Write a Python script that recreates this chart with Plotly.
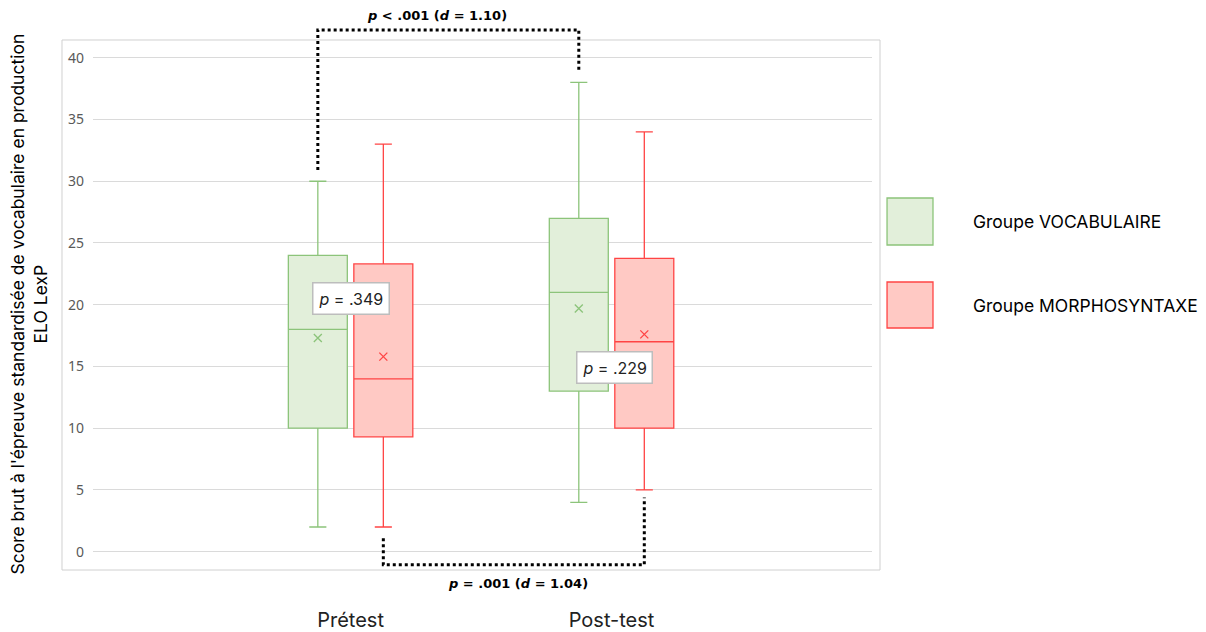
import plotly.graph_objects as go

# ---------------- data ----------------
categories = ["Prétest", "Post-test"]
groups = ["Groupe VOCABULAIRE", "Groupe MORPHOSYNTAXE"]

vocab_min = [2, 4]
vocab_q1 = [10, 13]
vocab_med = [18, 21]
vocab_q3 = [24, 27]
vocab_max = [30, 38]
vocab_mean = [17.3, 19.7]

morph_min = [2, 5]
morph_q1 = [9.3, 10]
morph_med = [14, 17]
morph_q3 = [23.3, 23.75]
morph_max = [33, 34]
morph_mean = [15.8, 17.6]

between_p = ["<i>p</i> = .349", "<i>p</i> = .229"]
within_top = "<b><i>p</i> &lt; .001 (<i>d</i> = 1.10)</b>"
within_bottom = "<b><i>p</i> = .001 (<i>d</i> = 1.04)</b>"

y_ticks = [0, 5, 10, 15, 20, 25, 30, 35, 40]

# ---------------- styles ----------------
fills = ["#e2efda", "#ffc9c4"]
lines = ["#8cc47a", "#ff4444"]
offset = 0.1255
box_w = 0.226
group_x = [i + 1 for i in range(len(categories))]

stats = [
    (vocab_min, vocab_q1, vocab_med, vocab_q3, vocab_max, vocab_mean),
    (morph_min, morph_q1, morph_med, morph_q3, morph_max, morph_mean),
]

fig = go.Figure()
for gi, (mn, q1, md, q3, mx, mean) in enumerate(stats):
    xs = [g + (-offset if gi == 0 else offset) for g in group_x]
    fig.add_trace(go.Box(
        x=xs, q1=q1, median=md, q3=q3, lowerfence=mn, upperfence=mx,
        name=groups[gi], width=box_w, whiskerwidth=0.29,
        fillcolor=fills[gi], line=dict(color=lines[gi], width=1.3),
        boxpoints=False, showlegend=False,
    ))
    fig.add_trace(go.Scatter(
        x=xs, y=mean, mode="markers", showlegend=False, hoverinfo="skip",
        marker=dict(symbol="x-thin", size=8, line=dict(color=lines[gi], width=1.3)),
    ))

# within-group brackets (dotted)
vx = [g - offset for g in group_x]
mxx = [g + offset for g in group_x]
top_y = 42.25
fig.add_trace(go.Scatter(
    x=[vx[0], vx[0], vx[1], vx[1]],
    y=[vocab_max[0] + 0.9, top_y, top_y, vocab_max[1] + 0.9],
    mode="lines", line=dict(color="black", width=3, dash="dot"),
    showlegend=False, hoverinfo="skip",
))
bot_y = -1.05
fig.add_trace(go.Scatter(
    x=[mxx[0], mxx[0], mxx[1], mxx[1]],
    y=[morph_min[0] - 0.9, bot_y, bot_y, morph_min[1] - 0.6],
    mode="lines", line=dict(color="black", width=3, dash="dot"),
    showlegend=False, hoverinfo="skip",
))

annotations = []
# between-group p labels
p_pos = [(1.0, 20.5), (2.01, 14.9)]
for txt, (ax, ay) in zip(between_p, p_pos):
    annotations.append(dict(
        x=ax, y=ay, xref="x", yref="y", text=txt, showarrow=False,
        font=dict(family="Inter", size=16, color="#222222"),
        bgcolor="white", bordercolor="#bdbdbd", borderwidth=1.5, borderpad=5,
    ))
annotations.append(dict(
    x=1.331, y=1.0183, xref="x", yref="paper", text=within_top, showarrow=False,
    xanchor="center", yanchor="middle",
    font=dict(family="DejaVu Sans", size=13, color="black"),
))
annotations.append(dict(
    x=1.642, y=-0.0239, xref="x", yref="paper", text=within_bottom, showarrow=False,
    xanchor="center", yanchor="middle",
    font=dict(family="DejaVu Sans", size=13, color="black"),
))
# y-axis title
annotations.append(dict(
    x=-0.0815, y=0.488, xref="paper", yref="paper", textangle=-90,
    text="Score brut à l'épreuve standardisée de vocabulaire en production<br>ELO LexP",
    showarrow=False, xanchor="center", yanchor="middle",
    font=dict(family="Inter", size=17.5, color="black"),
))

shapes = [dict(
    type="rect", xref="paper", yref="paper",
    x0=-0.0398, x1=1.0103, y0=0.0, y1=0.9725,
    line=dict(color="#d0d0d0", width=1), fillcolor="rgba(0,0,0,0)", layer="below",
)]

# custom legend
leg_rects = [(0.6826, 0.5963), (0.5284, 0.4440)]
for gi, name in enumerate(groups):
    y1, y0 = leg_rects[gi]
    shapes.append(dict(
        type="rect", xref="paper", yref="paper", x0=1.0193, x1=1.0783, y0=y0, y1=y1,
        line=dict(color=lines[gi], width=1.3), fillcolor=fills[gi],
    ))
    annotations.append(dict(
        x=1.1271, y=(y0 + y1) / 2, xref="paper", yref="paper", text=name,
        showarrow=False, xanchor="left", yanchor="middle",
        font=dict(family="Inter", size=17.5, color="black"),
    ))

fig.update_layout(
    width=1206, height=632,
    margin=dict(l=85, r=342, t=17, b=70),
    paper_bgcolor="white", plot_bgcolor="white",
    showlegend=False,
    xaxis=dict(
        range=[0.013, 2.998], tickvals=group_x, ticktext=categories,
        showgrid=False, zeroline=False, showline=False, ticks="",
        tickfont=dict(family="Inter", size=20, color="#222222"),
        ticklabelstandoff=36, automargin=False,
    ),
    yaxis=dict(
        range=[-1.48, 42.65], tickvals=y_ticks,
        showgrid=True, gridcolor="#dadada", gridwidth=1,
        zeroline=False, showline=False, ticks="",
        tickfont=dict(family="Noto Sans", size=14, color="#595959"),
        ticklabelstandoff=8, automargin=False,
    ),
    annotations=annotations,
    shapes=shapes,
)

fig.write_html("out.html")
